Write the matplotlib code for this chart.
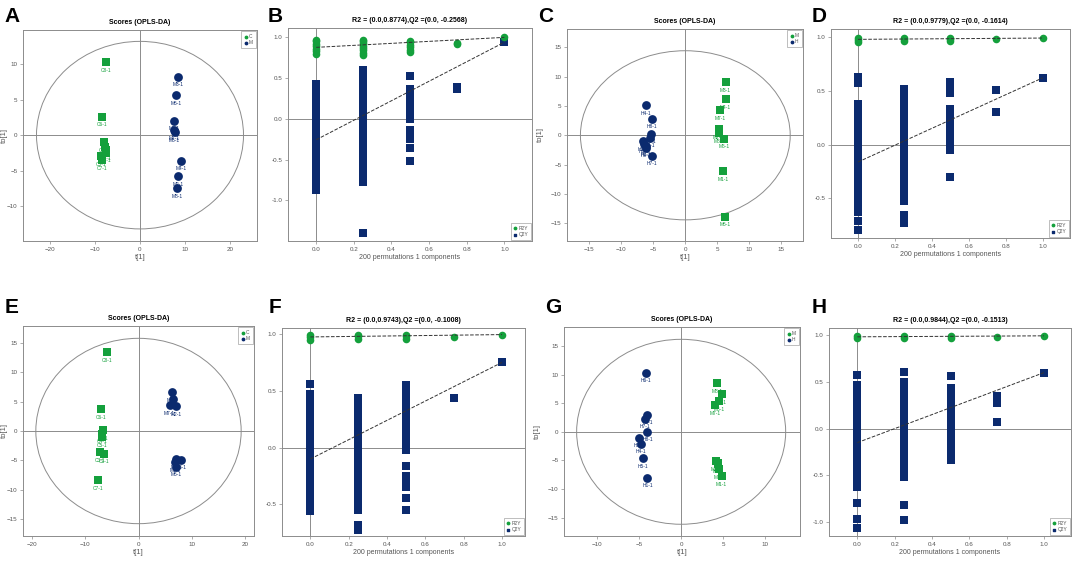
import matplotlib
matplotlib.use('Agg')
import matplotlib.pyplot as plt
from matplotlib.patches import Ellipse

plt.rcParams['font.family'] = ['Liberation Sans', 'DejaVu Sans']

GREEN = '#14a03c'
NAVY = '#0b2a6e'
GREY = '#8c8c8c'
TXT = '#555555'

# ---- score plots (OPLS-DA) ----
a_c_x = [-7.5, -8.5, -8.0, -7.8, -7.6, -7.5, -8.6, -8.4]
a_c_y = [10.3, 2.6, -1.0, -1.6, -2.1, -2.5, -3.0, -3.5]
a_c_lab = ['C8-1', 'C6-1', 'C3-1', 'C1-1', 'C4-1', 'C2-1', 'C5-1', 'C7-1']
a_m_x = [8.5, 8.0, 7.5, 7.5, 7.7, 9.2, 8.4, 8.3]
a_m_y = [8.2, 5.6, 2.0, 0.7, 0.4, -3.6, -5.8, -7.5]
a_m_lab = ['M3-1', 'M5-1', 'M1-1', 'M7-1', 'M6-1', 'M4-1', 'M2-1', 'M8-1']

c_h_x = [-6.1, -5.2, -5.3, -5.5, -6.6, -6.4, -6.2, -6.1, -5.2]
c_h_y = [5.1, 2.8, 0.3, -0.4, -1.0, -1.4, -1.9, -2.1, -3.5]
c_h_lab = ['H4-1', 'H8-1', 'H1-1', 'H3-1', 'H5-1', 'H6-1', 'H2-1', 'H9-1', 'H7-1']
c_m_x = [6.3, 6.3, 5.5, 5.2, 5.3, 6.0, 5.9, 6.2]
c_m_y = [9.0, 6.1, 4.3, 1.0, 0.4, -0.6, -6.1, -13.9]
c_m_lab = ['M3-1', 'M4-1', 'M7-1', 'M2-1', 'M8-1', 'M6-1', 'M1-1', 'M5-1']

e_c_x = [-5.9, -7.0, -6.7, -6.8, -6.9, -7.2, -6.4, -7.5]
e_c_y = [13.4, 3.7, 0.1, -0.5, -1.1, -3.6, -3.9, -8.4]
e_c_lab = ['C8-1', 'C6-1', 'C2-1', 'C4-1', 'C5-1', 'C3-1', 'C1-1', 'C7-1']
e_m_x = [6.3, 6.5, 5.8, 7.1, 7.0, 7.9, 6.8, 7.0]
e_m_y = [6.6, 5.4, 4.4, 4.2, -4.8, -4.9, -5.3, -6.1]
e_m_lab = ['M4-1', 'M6-1', 'M7-1', 'M2-1', 'M8-1', 'M3-1', 'M1-1', 'M5-1']

g_h_x = [-4.2, -4.0, -4.3, -4.0, -5.0, -4.8, -4.5, -4.0]
g_h_y = [10.3, 3.0, 2.3, 0.0, -1.0, -2.1, -4.6, -8.0]
g_h_lab = ['H6-1', 'H3-1', 'H7-1', 'H8-1', 'H2-1', 'H4-1', 'H5-1', 'H1-1']
g_m_x = [4.3, 4.8, 4.5, 4.0, 4.1, 4.4, 4.5, 4.8]
g_m_y = [8.5, 6.6, 5.3, 4.6, -5.1, -5.5, -6.5, -7.8]
g_m_lab = ['M8-1', 'M3-1', 'M5-1', 'M7-1', 'M2-1', 'M6-1', 'M4-1', 'M1-1']

# ---- permutation tests ----
perm_x = [0.0, 0.25, 0.5, 0.75, 1.0]

b_r2 = [[0.80, 0.83, 0.86, 0.89, 0.92, 0.95, 0.97],
        [0.78, 0.81, 0.84, 0.87, 0.90, 0.93, 0.96, 0.97],
        [0.82, 0.85, 0.88, 0.91, 0.94, 0.95],
        [0.92, 0.93], [1.0]]
b_q2 = [[-0.88, -0.81, -0.74, -0.67, -0.60, -0.53, -0.46, -0.39, -0.32, -0.25, -0.18,
         -0.11, -0.04, 0.03, 0.10, 0.17, 0.24, 0.31, 0.37, 0.43],
        [-1.40, -0.78, -0.71, -0.64, -0.57, -0.50, -0.43, -0.36, -0.29, -0.22, -0.15,
         -0.08, -0.01, 0.06, 0.13, 0.20, 0.28, 0.35, 0.40, 0.46, 0.53, 0.60],
        [-0.52, -0.36, -0.25, -0.21, -0.14, 0.0, 0.06, 0.12, 0.18, 0.24, 0.30, 0.37, 0.53],
        [0.36, 0.39], [0.94]]
b_int = [0.8774, -0.2568]

d_r2 = [[0.95, 0.97, 0.99], [0.96, 0.98, 0.99], [0.96, 0.98, 0.99], [0.985], [0.99]]
d_q2 = [[-0.79, -0.71, -0.63, -0.60, -0.55, -0.50, -0.46, -0.41, -0.36, -0.31, -0.26,
         -0.21, -0.16, -0.11, -0.06, -0.01, 0.04, 0.09, 0.14, 0.19, 0.24, 0.29, 0.34,
         0.38, 0.57, 0.63],
        [-0.73, -0.70, -0.65, -0.52, -0.47, -0.42, -0.37, -0.32, -0.27, -0.22, -0.17,
         -0.12, -0.07, -0.02, 0.03, 0.08, 0.13, 0.18, 0.23, 0.26, 0.30, 0.35, 0.40,
         0.45, 0.50, 0.52],
        [-0.30, -0.05, 0.0, 0.05, 0.10, 0.15, 0.20, 0.25, 0.27, 0.33, 0.48, 0.53, 0.58],
        [0.30, 0.51], [0.62]]
d_int = [0.9779, -0.1614]

f_r2 = [[0.95, 0.97, 0.99], [0.96, 0.98, 0.99], [0.96, 0.98, 0.99], [0.97], [0.995]]
f_q2 = [[-0.56, -0.50, -0.45, -0.39, -0.34, -0.28, -0.23, -0.17, -0.12, -0.06, -0.01,
         0.05, 0.10, 0.16, 0.21, 0.27, 0.32, 0.38, 0.43, 0.47, 0.56],
        [-0.73, -0.68, -0.55, -0.50, -0.44, -0.39, -0.33, -0.28, -0.22, -0.17, -0.11,
         -0.06, 0.0, 0.05, 0.11, 0.16, 0.22, 0.27, 0.33, 0.38, 0.44],
        [-0.55, -0.44, -0.35, -0.30, -0.25, -0.16, -0.02, 0.03, 0.08, 0.14, 0.19, 0.22,
         0.27, 0.31, 0.38, 0.43, 0.48, 0.53, 0.55],
        [0.44], [0.75]]
f_int = [0.9743, -0.1008]

h_r2 = [[0.97, 0.99], [0.97, 0.99], [0.97, 0.99], [0.985], [0.995]]
h_q2 = [[-1.07, -0.97, -0.80, -0.63, -0.60, -0.53, -0.47, -0.41, -0.35, -0.27, -0.21,
         -0.14, -0.08, -0.01, 0.05, 0.12, 0.18, 0.25, 0.30, 0.33, 0.38, 0.47, 0.57],
        [-0.98, -0.82, -0.52, -0.46, -0.40, -0.35, -0.29, -0.22, -0.16, -0.09, -0.03,
         0.04, 0.10, 0.17, 0.23, 0.30, 0.36, 0.43, 0.50, 0.61],
        [-0.34, -0.28, -0.21, -0.15, -0.08, -0.02, 0.05, 0.11, 0.18, 0.24, 0.31, 0.37,
         0.44, 0.56],
        [0.07, 0.27, 0.35], [0.60]]
h_int = [0.9844, -0.1513]


def px_box(x0, y0, x1, y1):
    W, H = 1072.0, 561.0
    return [x0 / W, 1 - y1 / H, (x1 - x0) / W, (y1 - y0) / H]


def style_axes(ax):
    for s in ax.spines.values():
        s.set_color(GREY)
        s.set_linewidth(0.7)
    ax.tick_params(labelsize=4.5, colors=GREY, labelcolor=TXT, length=2, width=0.5, pad=2)


def add_legend(ax, labels, colors, markers, loc):
    hs = [ax.scatter([], [], marker=m, s=3, color=c) for m, c in zip(markers, colors)]
    lg = ax.legend(hs, labels, loc=loc, fontsize=3.5, frameon=True, fancybox=False,
                   borderpad=0.5, handletextpad=0.1, labelspacing=0.3,
                   borderaxespad=0.3, handlelength=1.0)
    lg.get_frame().set_edgecolor(GREY)
    lg.get_frame().set_linewidth(0.5)
    for t in lg.get_texts():
        t.set_color(TXT)


def score_panel(ax, g1, g2, names, xlim, ylim, ell, xt, yt, ylab_x):
    style_axes(ax)
    ax.axhline(0, color=GREY, lw=0.7)
    ax.axvline(0, color=GREY, lw=0.7)
    ax.add_patch(Ellipse((0, 0), 2 * ell[0], 2 * ell[1], fill=False, ec=GREY, lw=0.7))
    for (xs, ys, labs, col, mk) in (g1, g2):
        ax.scatter(xs, ys, marker=mk, s=40, color=col, zorder=3, linewidths=0)
        for x, y, l in zip(xs, ys, labs):
            ax.annotate(l, (x, y), xytext=(0, -4), textcoords='offset points',
                        ha='center', va='top', fontsize=3.5, color=col)
    ax.set_xlim(xlim)
    ax.set_ylim(ylim)
    ax.set_xticks(xt)
    ax.set_yticks(yt)
    ax.set_title('Scores (OPLS-DA)', fontsize=5, fontweight='bold', pad=4)
    ax.set_xlabel('t[1]', fontsize=5.5, color=TXT, labelpad=2)
    ax.set_ylabel('to[1]', fontsize=5.5, color=TXT)
    ax.yaxis.set_label_coords(ylab_x, 0.5)
    add_legend(ax, names, [g1[3], g2[3]], ['o', 'o'], 'upper right')


def perm_panel(ax, r2, q2, ints, xlim, ylim, yt):
    style_axes(ax)
    ax.axhline(0, color=GREY, lw=0.7)
    ax.axvline(0, color=GREY, lw=0.7)
    for x, vals in zip(perm_x, q2):
        ax.scatter([x] * len(vals), vals, marker='s', s=30, color=NAVY, zorder=3, linewidths=0)
    for x, vals in zip(perm_x, r2):
        ax.scatter([x] * len(vals), vals, marker='o', s=30, color=GREEN, zorder=4, linewidths=0)
    ax.plot([0, 1], [ints[0], r2[-1][0]], ls='--', color='#333333', lw=0.7, zorder=5)
    ax.plot([0, 1], [ints[1], q2[-1][0]], ls='--', color='#333333', lw=0.7, zorder=5)
    ax.set_xlim(xlim)
    ax.set_ylim(ylim)
    ax.set_xticks([0, 0.2, 0.4, 0.6, 0.8, 1.0])
    ax.set_xticklabels(['0.0', '0.2', '0.4', '0.6', '0.8', '1.0'])
    ax.set_yticks(yt)
    ax.set_yticklabels(['%.1f' % v for v in yt])
    ax.set_title('R2 = (0.0,%.4f),Q2 =(0.0, %.4f)' % (ints[0], ints[1]),
                 fontsize=5, fontweight='bold', pad=4)
    ax.set_xlabel('200 permutations 1 components', fontsize=5, color=TXT, labelpad=2)
    add_legend(ax, ['R2Y', 'Q2Y'], [GREEN, NAVY], ['o', 's'], 'lower right')


fig = plt.figure(figsize=(10.72, 5.61), dpi=100)

axA = fig.add_axes(px_box(23, 30, 257, 241))
score_panel(axA, (a_c_x, a_c_y, a_c_lab, GREEN, 's'), (a_m_x, a_m_y, a_m_lab, NAVY, 'o'),
            ['C', 'M'], (-26, 26), (-14.9, 14.8), (23, 13.2),
            [-20, -10, 0, 10, 20], [-10, -5, 0, 5, 10], -0.065)

axB = fig.add_axes(px_box(288, 28, 532, 241))
perm_panel(axB, b_r2, b_q2, b_int, (-0.15, 1.147), (-1.5, 1.115), [-1.0, -0.5, 0.0, 0.5, 1.0])

axC = fig.add_axes(px_box(567, 29, 803, 241))
score_panel(axC, (c_m_x, c_m_y, c_m_lab, GREEN, 's'), (c_h_x, c_h_y, c_h_lab, NAVY, 'o'),
            ['M', 'H'], (-18.5, 18.4), (-18, 18.1), (16.4, 14.4),
            [-15, -10, -5, 0, 5, 10, 15], [-15, -10, -5, 0, 5, 10, 15], -0.1)

axD = fig.add_axes(px_box(831, 29, 1070, 238))
perm_panel(axD, d_r2, d_q2, d_int, (-0.146, 1.148), (-0.867, 1.074), [-0.5, 0.0, 0.5, 1.0])

axE = fig.add_axes(px_box(23, 326, 254, 536))
score_panel(axE, (e_c_x, e_c_y, e_c_lab, GREEN, 's'), (e_m_x, e_m_y, e_m_lab, NAVY, 'o'),
            ['C', 'M'], (-21.6, 21.6), (-17.9, 17.9), (19.2, 15.8),
            [-20, -10, 0, 10, 20], [-15, -10, -5, 0, 5, 10, 15], -0.065)

axF = fig.add_axes(px_box(282, 328, 525, 536))
perm_panel(axF, f_r2, f_q2, f_int, (-0.148, 1.12), (-0.779, 1.053), [-0.5, 0.0, 0.5, 1.0])

axG = fig.add_axes(px_box(564, 327, 800, 536))
score_panel(axG, (g_m_x, g_m_y, g_m_lab, GREEN, 's'), (g_h_x, g_h_y, g_h_lab, NAVY, 'o'),
            ['M', 'H'], (-13.9, 14.1), (-18.2, 18.3), (12.4, 16.15),
            [-10, -5, 0, 5, 10], [-15, -10, -5, 0, 5, 10, 15], -0.1)

axH = fig.add_axes(px_box(829, 328, 1071, 536))
perm_panel(axH, h_r2, h_q2, h_int, (-0.152, 1.145), (-1.154, 1.079), [-1.0, -0.5, 0.0, 0.5, 1.0])

letters = [('A', 4, 22), ('B', 268, 22), ('C', 538, 22), ('D', 812, 22),
           ('E', 5, 313), ('F', 269, 313), ('G', 545, 313), ('H', 812, 313)]
for l, x, y in letters:
    fig.text(x / 1072.0, 1 - y / 561.0, l, fontsize=15, fontweight='bold', ha='left', va='baseline')

fig.savefig('out.png', dpi=100)
